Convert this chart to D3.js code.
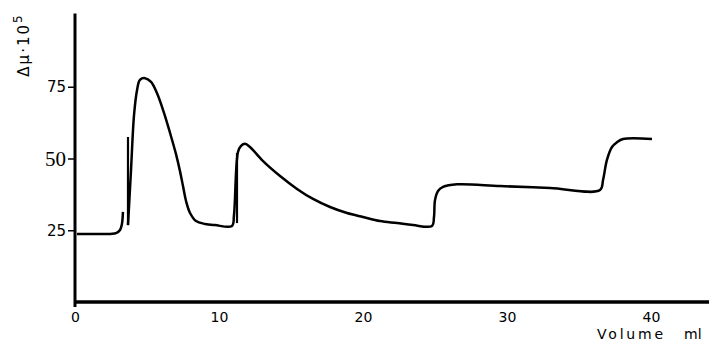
<!DOCTYPE html>
<html>
<head>
<meta charset="utf-8">
<script src="https://cdn.jsdelivr.net/npm/d3@7"></script>
<style>
  body { margin: 0; background: #fff; }
  svg { display: block; }
</style>
</head>
<body>
<div class="chart"></div>
<script>
// trace of the titration curve (volume ml, delta mu * 10^5)
const volume = [0.14, 1.74, 2.85, 3.13, 3.26, 3.33];
const deltaMu = [23.7, 23.7, 24.0, 25.1, 27.2, 31.4];

const volume2 = [3.68, 3.89, 4.10, 4.31, 4.51, 4.86, 5.28, 5.69, 6.18, 6.60, 7.01, 7.29, 7.50, 7.71,
  7.99, 8.40, 9.03, 9.72, 10.90, 11.04, 11.32, 11.53, 11.81, 12.15, 13.06, 14.24, 15.42, 16.53, 17.71,
  18.89, 20.0, 21.18, 22.36, 23.47, 24.79, 24.93, 25.0, 25.21, 25.56, 26.53, 29.51, 32.99, 36.46,
  36.67, 36.94, 37.29, 37.64, 38.06, 40.07];
const deltaMu2 = [26.8, 46.0, 65.2, 73.9, 77.4, 78.0, 76.7, 72.8, 65.9, 58.9, 51.6, 45.6, 40.4, 35.2,
  31.0, 28.2, 27.2, 26.8, 26.5, 30.3, 52.3, 54.4, 55.1, 54.0, 49.1, 43.9, 39.4, 35.9, 33.1,
  31.0, 29.6, 28.2, 27.5, 26.8, 26.5, 29.6, 35.5, 38.7, 40.1, 41.0, 40.4, 39.7, 39.0,
  42.5, 49.5, 54.0, 55.7, 56.8, 56.8];

// pen jumps where the recorder was reset
const jumps = [
  {x: 3.68, y0: 26.8, y1: 57.5},
  {x: 11.25, y0: 27.5, y1: 51.9},
];

const xTicks = [0, 10, 20, 30, 40];
const yTicks = [25, 50, 75];

const width = 709;
const height = 351;

const svg = d3.select('.chart')
  .append('svg')
  .attr('width', width)
  .attr('height', height);

const xScale = d3.scaleLinear().domain([0, 44]).range([75, 708.6]);
const yScale = d3.scaleLinear().domain([0, 100]).range([302, 15]);

// x axis
const xAxis = svg.append('g')
  .attr('transform', `translate(0, ${yScale(0)})`)
  .call(d3.axisBottom(xScale).tickValues(xTicks).tickSize(0).tickPadding(10).tickFormat(d3.format('d')));
xAxis.select('.domain')
  .attr('d', `M${xScale(0)},0H${width}`)
  .style('stroke', '#000')
  .style('stroke-width', 3.5);
xAxis.selectAll('text')
  .style('font-family', 'DejaVu Sans, sans-serif')
  .style('font-size', '14px')
  .style('fill', '#000');

// y axis
const yAxis = svg.append('g')
  .attr('transform', `translate(${xScale(0)}, 0)`)
  .call(d3.axisLeft(yScale).tickValues(yTicks).tickSize(7).tickPadding(2));
yAxis.select('.domain')
  .attr('d', `M0,${yScale(100.5)}V${yScale(0) + 5}`)
  .style('stroke', '#000')
  .style('stroke-width', 3);
yAxis.selectAll('.tick line')
  .style('stroke', '#000')
  .style('stroke-width', 1.5);
yAxis.selectAll('text')
  .style('fill', '#000')
  .style('font-family', d => d === 50 ? 'Liberation Serif, serif' : 'DejaVu Sans, sans-serif')
  .style('font-size', d => d === 50 ? '21px' : '15px');

// axis titles
svg.append('text')
  .attr('transform', `translate(29, 45) rotate(-90)`)
  .attr('text-anchor', 'middle')
  .style('font-family', 'DejaVu Sans, sans-serif')
  .style('font-size', '15px')
  .style('letter-spacing', '2px')
  .html('Δμ·10<tspan dy="-7" font-size="12px">5</tspan>');

const xTitle = svg.append('g')
  .style('font-family', 'DejaVu Sans, sans-serif')
  .style('font-size', '14px');
xTitle.append('text')
  .attr('x', 597)
  .attr('y', 339)
  .style('letter-spacing', '2.8px')
  .text('Volume');
xTitle.append('text')
  .attr('x', 684)
  .attr('y', 339)
  .text('ml');

// curve
const line = d3.line()
  .x(d => xScale(d[0]))
  .y(d => yScale(d[1]))
  .curve(d3.curveCatmullRom.alpha(0.5));

const segments = [
  d3.zip(volume, deltaMu),
  d3.zip(volume2, deltaMu2),
];

svg.selectAll('.line')
  .data(segments)
  .enter()
  .append('path')
  .attr('class', 'line')
  .attr('d', d => line(d))
  .style('fill', 'none')
  .style('stroke', '#000')
  .style('stroke-width', 2.5)
  .style('stroke-linejoin', 'round');

svg.selectAll('.jump')
  .data(jumps)
  .enter()
  .append('line')
  .attr('class', 'jump')
  .attr('x1', d => xScale(d.x))
  .attr('x2', d => xScale(d.x))
  .attr('y1', d => yScale(d.y0))
  .attr('y2', d => yScale(d.y1))
  .style('stroke', '#000')
  .style('stroke-width', 2.2);
</script>
</body>
</html>
